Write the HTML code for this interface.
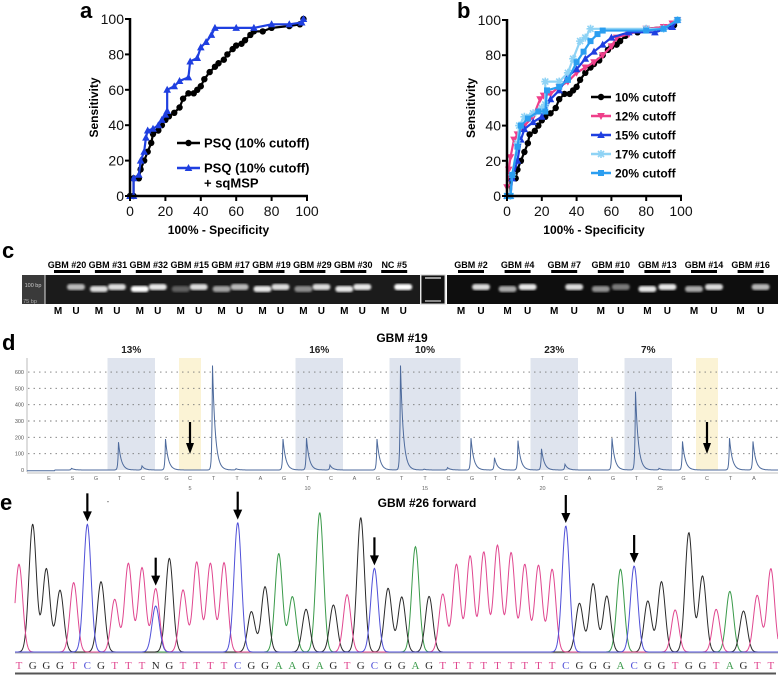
<!DOCTYPE html>
<html><head><meta charset="utf-8">
<style>
html,body{margin:0;padding:0;background:#fff;}
svg{display:block;font-family:"Liberation Sans",Arial,sans-serif;}
</style></head>
<body>
<svg id="fig" width="778" height="675" viewBox="0 0 778 675" xmlns="http://www.w3.org/2000/svg">
<rect x="0" y="0" width="778" height="675" fill="#fff"/>
<g id="pa"></g>
<g id="pb"></g>
<g id="pc"></g>
<g id="pd"></g>
<g id="pe"></g>
</svg>
<script>
// ---------- Panel a/b ROC data ----------
const aBlackX=[0,2,2,5,6,8,10,12,13,16,18,20,22,25,28,30,33,36,38,40,42,45,48,50,53,55,58,60,63,65,68,70,75,80,90,96,98];
const aBlackY=[0,0,10,10,15,20,25,30,35,37,40,43,45,47,50,55,58,58,60,62,66,70,73,75,77,80,83,85,86,88,91,93,93,95,96,97,100];
const aBlueX=[0,2,2,5,6,8,9,10,13,16,18,20,21,21,25,28,33,34,38,40,43,46,48,60,70,80,90,97,98];
const aBlueY=[0,0,10,12,20,25,33,37,38,40,43,46,48,60,62,65,67,76,78,84,87,91,95,95,95,97,97,98,100];
const b12X=[0,1,2,4,6,10,15,19,21,25,30,35,40,45,50,55,60,63,70,80,90,95,98];
const b12Y=[5,15,22,32,35,40,45,55,57,58,62,65,70,73,76,80,85,90,92,95,96,98,100];
const b15X=[0,2,3,6,8,10,15,20,25,30,35,40,45,50,55,60,70,85,95,98];
const b15Y=[0,0,10,20,32,38,42,45,55,60,68,72,78,82,86,90,93,93,96,100];
const b17X=[0,2,3,6,7,10,15,20,22,22,30,35,38,42,45,48,80,90,98];
const b17Y=[0,0,12,30,40,45,47,50,52,65,65,70,78,88,90,95,95,95,100];
const b20X=[0,2,3,6,8,12,18,22,23,30,35,40,44,48,52,55,80,90,98];
const b20Y=[0,0,12,28,40,44,48,48,60,62,66,76,82,88,92,94,94,95,100];
const rocTicks=[0,20,40,60,80,100];

// ---------- Panel c gel data ----------
const gelLeftNames=["GBM #20","GBM #31","GBM #32","GBM #15","GBM #17","GBM #19","GBM #29","GBM #30","NC #5"];
const gelLeftM=[0,0.85,1,0.3,0.6,0.9,0.5,0.9,0];
const gelLeftU=[0.7,0.85,0.9,0.85,0.7,0.85,0.85,0.9,1];
const gelRightNames=["GBM #2","GBM #4","GBM #7","GBM #10","GBM #13","GBM #14","GBM #16"];
const gelRightM=[0,0.65,0,0.55,0.9,0.65,0];
const gelRightU=[0.85,0.9,0.85,0.45,0.9,0.85,0.7];

// ---------- Panel d pyrogram data ----------
const dBases=["E","S","G","T","C","G","C","T","T","A","G","T","C","A","G","T","T","C","G","T","A","T","C","A","G","T","C","G","C","T","A"];
const dHeights=[0,10,0,170,25,190,0,640,8,0,190,195,30,0,190,640,5,15,195,75,180,130,35,0,195,480,10,175,0,195,175];
const dYTicks=[0,100,200,300,400,500,600];
const dShadeStart=[3,11,15,21,25];
const dShadeEnd=[4,12,17,22,26];
const dShadeLabels=["13%","16%","10%","23%","7%"];
const dYellow=[6,28];

// ---------- Panel e chromatogram data ----------
const eSeq="TGGGTCGTTTNGTTTTCGGAAGAGTGCGGAGTTTTTTTTTCGGGACGGTGGTAGTT".split("");
const eHeights=[263,383,250,185,208,383,211,158,266,253,190,281,186,270,266,268,388,121,196,295,166,128,418,141,172,403,251,191,165,316,167,174,263,288,300,320,298,263,260,248,378,146,205,168,248,258,153,211,126,358,228,128,182,123,170,250];
const eArrowIdx=[5,10,16,26,40,45];

const NS="http://www.w3.org/2000/svg";
function mk(tag,attrs,parent){const e=document.createElementNS(NS,tag);for(const k in attrs)e.setAttribute(k,attrs[k]);if(parent)parent.appendChild(e);return e;}
function txt(parent,x,y,s,size,weight,anchor,fill){const t=mk("text",{x:x,y:y,"font-size":size,"font-weight":weight||"normal","text-anchor":anchor||"start",fill:fill||"#000"},parent);t.textContent=s;return t;}

// ---------- ROC panels ----------
function marker(g,shape,x,y,color){
  let m;
  if(shape==="circle"){m=mk("circle",{cx:x,cy:y,r:3.2,fill:color},g);}
  else if(shape==="tri"){m=mk("polygon",{points:`${x},${y-4} ${x-3.8},${y+3} ${x+3.8},${y+3}`,fill:color},g);}
  else if(shape==="dtri"){m=mk("polygon",{points:`${x},${y+4} ${x-3.8},${y-3} ${x+3.8},${y-3}`,fill:color},g);}
  else if(shape==="square"){m=mk("rect",{x:x-3,y:y-3,width:6,height:6,fill:color},g);}
  else {m=mk("path",{d:`M${x-4},${y}H${x+4}M${x},${y-4}V${y+4}M${x-3},${y-3}L${x+3},${y+3}M${x-3},${y+3}L${x+3},${y-3}`,stroke:color,"stroke-width":1.6},g);}
  
  
}
function rocPanel(g,x0,x1,y0,y1,letter,series,legend){
  const sx=v=>x0+(x1-x0)*v/100, sy=v=>y0-(y0-y1)*v/100;
  const lab=txt(g,x0-50,18,letter,22,"bold");
  
  
  series.forEach(s=>{
    const sg=mk("g",{},g);
    
    
    const pts=s.x.map((v,i)=>sx(v)+","+sy(s.y[i])).join(" ");
    mk("polyline",{points:pts,fill:"none",stroke:s.color,"stroke-width":2.2},sg);
    s.x.forEach((v,i)=>marker(sg,s.shape,sx(v),sy(s.y[i]),s.color));
  });
  const ax=mk("g",{},g);
  
  
  mk("line",{x1:x0,y1:y1-1,x2:x0,y2:y0+1,stroke:"#000","stroke-width":2.5},ax);
  mk("line",{x1:x0-1,y1:y0,x2:x1+1,y2:y0,stroke:"#000","stroke-width":2.5},ax);
  rocTicks.forEach(t=>{
    mk("line",{x1:x0-5,y1:sy(t),x2:x0,y2:sy(t),stroke:"#000","stroke-width":2},ax);
    txt(ax,x0-6,sy(t)+5,String(t),14,"normal","end","#111");
    mk("line",{x1:sx(t),y1:y0,x2:sx(t),y2:y0+5,stroke:"#000","stroke-width":2},ax);
    txt(ax,sx(t),y0+20,String(t),14,"normal","middle","#111");
  });
  const xt=txt(g,(x0+x1)/2,234,"100% - Specificity",12,"bold","middle");
  
  
  const yt=txt(g,0,0,"Sensitivity",12,"bold","middle");
  yt.setAttribute("transform",`translate(${x0-32},${(y0+y1)/2}) rotate(-90)`);
  
  
  legend.forEach(L=>{
    const lg=mk("g",{},g);
    
    
    mk("line",{x1:L.lx,y1:L.y,x2:L.lx+L.lw,y2:L.y,stroke:L.color,"stroke-width":2.5},lg);
    marker(lg,L.shape,L.lx+L.lw/2,L.y,L.color);
    L.lines.forEach((s,i)=>txt(lg,L.lx+L.lw+4,L.y+4.5+i*15,s,L.fs,"bold"));
  });
}
rocPanel(document.getElementById("pa"),130,307,196,19,"a",
 [{name:"psq",x:aBlackX,y:aBlackY,color:"#000",shape:"circle"},
  {name:"psq-sqmsp",x:aBlueX,y:aBlueY,color:"#1f3fe0",shape:"tri"}],
 [{lx:177,lw:23,y:143,color:"#000",shape:"circle",lines:["PSQ (10% cutoff)"],fs:13},
  {lx:177,lw:23,y:168,color:"#1f3fe0",shape:"tri",lines:["PSQ (10% cutoff)","+ sqMSP"],fs:13}]);
rocPanel(document.getElementById("pb"),507,681,196,20,"b",
 [{name:"10",x:aBlackX,y:aBlackY,color:"#000",shape:"circle"},
  {name:"12",x:b12X,y:b12Y,color:"#ef3f8a",shape:"dtri"},
  {name:"15",x:b15X,y:b15Y,color:"#1f3fe0",shape:"tri"},
  {name:"17",x:b17X,y:b17Y,color:"#8fd3f5",shape:"star"},
  {name:"20",x:b20X,y:b20Y,color:"#2b9ef0",shape:"square"}],
 [{lx:591,lw:20,y:97,color:"#000",shape:"circle",lines:["10% cutoff"],fs:12},
  {lx:591,lw:20,y:116,color:"#ef3f8a",shape:"dtri",lines:["12% cutoff"],fs:12},
  {lx:591,lw:20,y:135,color:"#1f3fe0",shape:"tri",lines:["15% cutoff"],fs:12},
  {lx:591,lw:20,y:154,color:"#8fd3f5",shape:"star",lines:["17% cutoff"],fs:12},
  {lx:591,lw:20,y:173,color:"#2b9ef0",shape:"square",lines:["20% cutoff"],fs:12}]);

// ---------- Panel c ----------
(function(){
  const g=document.getElementById("pc");
  const lab=txt(g,2,258,"c",22,"bold");
  
  
  const defs=mk("defs",{},g);
  const f=mk("filter",{id:"blur1"},defs);mk("feGaussianBlur",{stdDeviation:1.1},f);
  const gl=mk("rect",{x:22,y:275,width:398,height:29,fill:"#1b1b1b"},g);
  
  
  mk("rect",{x:22,y:275,width:23,height:29,fill:"#3a3a3a"},g);
  mk("line",{x1:45,y1:275,x2:45,y2:304,stroke:"#ddd","stroke-width":1},g);
  txt(g,33,287,"100 bp",5.5,"normal","middle","#ccc");
  txt(g,30,303,"75 bp",5.5,"normal","middle","#aaa");
  const mkr=mk("rect",{x:421,y:275,width:24,height:29,fill:"#111",stroke:"#ccc","stroke-width":1},g);
  
  
  mk("rect",{x:425,y:277,width:16,height:2,fill:"#999"},g);
  mk("rect",{x:425,y:300,width:16,height:2,fill:"#888"},g);
  const gr=mk("rect",{x:447,y:275,width:331,height:29,fill:"#0e0e0e"},g);
  
  
  function lanes(names,Ms,Us,x0,pitchPair,mOff,uOff){
    names.forEach((n,i)=>{
      const mx=x0+i*pitchPair+mOff, ux=x0+i*pitchPair+uOff, cx=(mx+ux)/2;
      const lt=txt(g,cx,268,n,9,"bold","middle");
      
      
      mk("rect",{x:cx-13,y:270,width:26,height:3,fill:"#000"},g);
      [[mx,Ms[i],"M",289],[ux,Us[i],"U",287]].forEach(([x,v,l,by])=>{
        if(v>0){const b=mk("rect",{x:x-9,y:by-3,width:18,height:6,rx:3,fill:"#fff",opacity:v,filter:"url(#blur1)"},g);
          
          }
        txt(g,x,314,l,10,"bold","middle");
      });
    });
  }
  lanes(gelLeftNames,gelLeftM,gelLeftU,58,40.9,0,18);
  lanes(gelRightNames,gelRightM,gelRightU,461,46.6,0,20);
})();

// ---------- Panel d ----------
(function(){
  const g=document.getElementById("pd");
  const bx=i=>49+23.5*i, y0=470, k=0.1633, sy=v=>y0-v*k;
  const lab=txt(g,2,350,"d",22,"bold");
  
  
  const tt=txt(g,402,342,"GBM #19",12,"bold","middle");
  
  
  dShadeStart.forEach((s,j)=>{
    const r=mk("rect",{x:bx(s)-12,y:358,width:bx(dShadeEnd[j])-bx(s)+24,height:y0-358,fill:"#dfe4ee"},g);
    
    
    txt(g,(bx(s)+bx(dShadeEnd[j]))/2,353,dShadeLabels[j],10,"bold","middle","#222");
  });
  dYellow.forEach(i=>{
    const r=mk("rect",{x:bx(i)-11,y:358,width:22,height:y0-358,fill:"#fbf3d5"},g);
    
    
  });
  dYTicks.forEach(t=>{
    if(t>0)mk("line",{x1:28,y1:sy(t),x2:778,y2:sy(t),stroke:"#777","stroke-width":0.9,"stroke-dasharray":"1.5,4"},g);
    txt(g,24,sy(t)+2,String(t),5.5,"normal","end","#555");
  });
  mk("line",{x1:27,y1:358,x2:27,y2:y0+2,stroke:"#aaa","stroke-width":0.8},g);
  mk("line",{x1:27,y1:y0+3,x2:778,y2:y0+3,stroke:"#aaa","stroke-width":0.8},g);
  let pts=[];
  for(let x=27;x<=778;x+=0.5){
    let v=0;
    dHeights.forEach((h,i)=>{const c=bx(i)-1;const d=x-c;if(h>0){v+= d>=0? h*Math.exp(-d/2.8) : h*Math.exp(d/0.6);}});
    const base=(x<55)?-4:0;
    pts.push(x.toFixed(1)+","+sy(v+base).toFixed(1));
  }
  const tr=mk("polyline",{points:pts.join(" "),fill:"none",stroke:"#4d6a9c","stroke-width":1},g);
  
  
  dBases.forEach((b,i)=>{
    txt(g,bx(i),480,b,5.5,"normal","middle","#666");
    const n=i-1;
    if(n>0&&n%5===0)txt(g,bx(i),490,String(n),5.5,"normal","middle","#666");
  });
  dYellow.forEach(i=>{
    const a=mk("g",{},g);
    
    
    mk("line",{x1:bx(i),y1:422,x2:bx(i),y2:445,stroke:"#000","stroke-width":2.2},a);
    mk("polygon",{points:`${bx(i)-4},443 ${bx(i)+4},443 ${bx(i)},454`,fill:"#000"},a);
  });
})();

// ---------- Panel e ----------
(function(){
  const g=document.getElementById("pe");
  const ex=i=>19+13.67*i, base=653, s=1/3;
  const col={T:"#e0478f",G:"#2a2a2a",C:"#5050d8",A:"#3a9a4a",N:"#2a2a2a"};
  const lab=txt(g,0,510,"e",22,"bold");
  
  
  const tt=txt(g,427,507,"GBM #26 forward",12,"bold","middle");
  
  
  txt(g,108,504,"-",8,"normal","middle","#555");
  mk("line",{x1:15,y1:base,x2:778,y2:base,stroke:"#999","stroke-width":0.8},g);
  const channels={T:[],G:[],C:[],A:[]};
  eSeq.forEach((b,i)=>{
    if(b==="N"){channels.T.push([i,eHeights[i]]);channels.C.push([i,138]);}
    else channels[b].push([i,eHeights[i]]);
  });
  ["A","G","T","C"].forEach(ch=>{
    const pts=[];
    for(let x=15;x<=778;x+=0.5){
      let v=0;
      channels[ch].forEach(([i,h])=>{const d=x-ex(i);v+=h*Math.exp(-d*d/(2*3.7*3.7));});
      pts.push(x.toFixed(1)+","+(base-v*s-1).toFixed(1));
    }
    const p=mk("polyline",{points:pts.join(" "),fill:"none",stroke:col[ch],"stroke-width":1},g);
    
    
  });
  eSeq.forEach((b,i)=>{
    const t=txt(g,ex(i),669,b,11,"normal","middle",col[b]);
    t.setAttribute("font-family","Liberation Serif, serif");
    
    
  });
  mk("line",{x1:15,y1:673.5,x2:776,y2:673.5,stroke:"#555","stroke-width":2},g);
  eArrowIdx.forEach(i=>{
    const h=(i===10?190:eHeights[i]);
    const tip=base-h*s-4, top=tip-28;
    const a=mk("g",{},g);
    
    
    mk("line",{x1:ex(i),y1:top,x2:ex(i),y2:tip-8,stroke:"#000","stroke-width":2.2},a);
    mk("polygon",{points:`${ex(i)-4.5},${tip-10} ${ex(i)+4.5},${tip-10} ${ex(i)},${tip}`,fill:"#000"},a);
  });
})();
</script>
</body></html>
